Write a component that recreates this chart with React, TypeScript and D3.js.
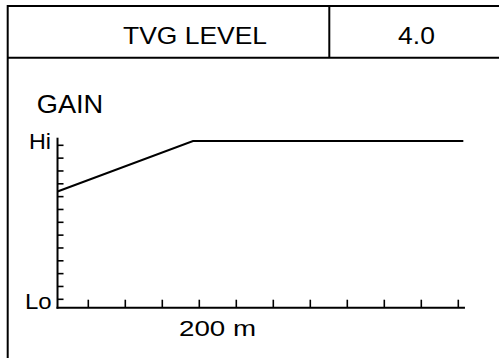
import React from "react";
import * as d3 from "d3";

const headerLabel = "TVG LEVEL";
const headerValue = "4.0";
const yAxisTitle = "GAIN";
const yTickValues = [0, 1, 2, 3, 4, 5, 6, 7, 8, 9, 10, 11, 12];
const yEndLabels = ["Lo", "Hi"];
const xTickValues = [50, 100, 150, 200, 250, 300, 350, 400, 450, 500, 550];
const xLabel = "200 m";
const distance = [8.4, 191.5, 556.8];
const gain = [8.4, 12.33, 12.33];

const W = 499;
const H = 358;

export default function App() {
  const x = d3.scaleLinear().domain([0, 550]).range([51.3, 458.3]);
  const y = d3.scaleLinear().domain([0, 12]).range([299.3, 145.3]);
  const axisY = 307.7;
  const axisX = x(8.4);
  const line = d3
    .line<number>()
    .x((_, i) => x(distance[i]))
    .y((d) => y(d));
  const font = "'Liberation Sans', Arial, Helvetica, sans-serif";
  return (
    <svg
      width={W}
      height={H}
      style={{ position: "absolute", left: 0, top: 0, background: "#fff" }}
      fontFamily={font}
    >
      <rect x={0} y={0} width={W} height={H} fill="#fff" />
      <g stroke="#000" strokeWidth={2} fill="none">
        <line x1={7.7} y1={6} x2={W + 2} y2={6} />
        <line x1={7.7} y1={5} x2={7.7} y2={H + 2} />
        <line x1={7.7} y1={57.8} x2={W + 2} y2={57.8} />
        <line x1={329.3} y1={6} x2={329.3} y2={57.8} />
      </g>
      <text
        transform={`translate(195,44) scale(1.15,1)`}
        textAnchor="middle"
        fontSize={23}
        fill="#000"
      >
        {headerLabel}
      </text>
      <text
        transform={`translate(416.5,44) scale(1.15,1)`}
        textAnchor="middle"
        fontSize={23}
        fill="#000"
      >
        {headerValue}
      </text>
      <text
        transform={`translate(36.7,113) scale(1.09,1)`}
        fontSize={25}
        fill="#000"
      >
        {yAxisTitle}
      </text>
      <g stroke="#000" fill="none">
        <line x1={axisX} y1={137.7} x2={axisX} y2={axisY + 1} strokeWidth={2} />
        <line x1={axisX - 1} y1={axisY} x2={x(559)} y2={axisY} strokeWidth={2} />
        {yTickValues.map((v) => (
          <line key={"y" + v} x1={axisX} x2={axisX + 6} y1={y(v)} y2={y(v)} strokeWidth={1.6} />
        ))}
        {xTickValues.map((v) => (
          <line key={"x" + v} x1={x(v)} x2={x(v)} y1={axisY} y2={axisY - 8} strokeWidth={1.6} />
        ))}
        <path d={line(gain) || ""} strokeWidth={2} strokeLinejoin="miter" />
      </g>
      <text
        transform={`translate(51,149) scale(1.06,1)`}
        textAnchor="end"
        fontSize={22}
        fill="#000"
      >
        {yEndLabels[1]}
      </text>
      <text
        transform={`translate(51.7,309) scale(1.09,1)`}
        textAnchor="end"
        fontSize={22}
        fill="#000"
      >
        {yEndLabels[0]}
      </text>
      <text
        transform={`translate(217.5,336) scale(1.26,1)`}
        textAnchor="middle"
        fontSize={22}
        fill="#000"
      >
        {xLabel}
      </text>
    </svg>
  );
}
